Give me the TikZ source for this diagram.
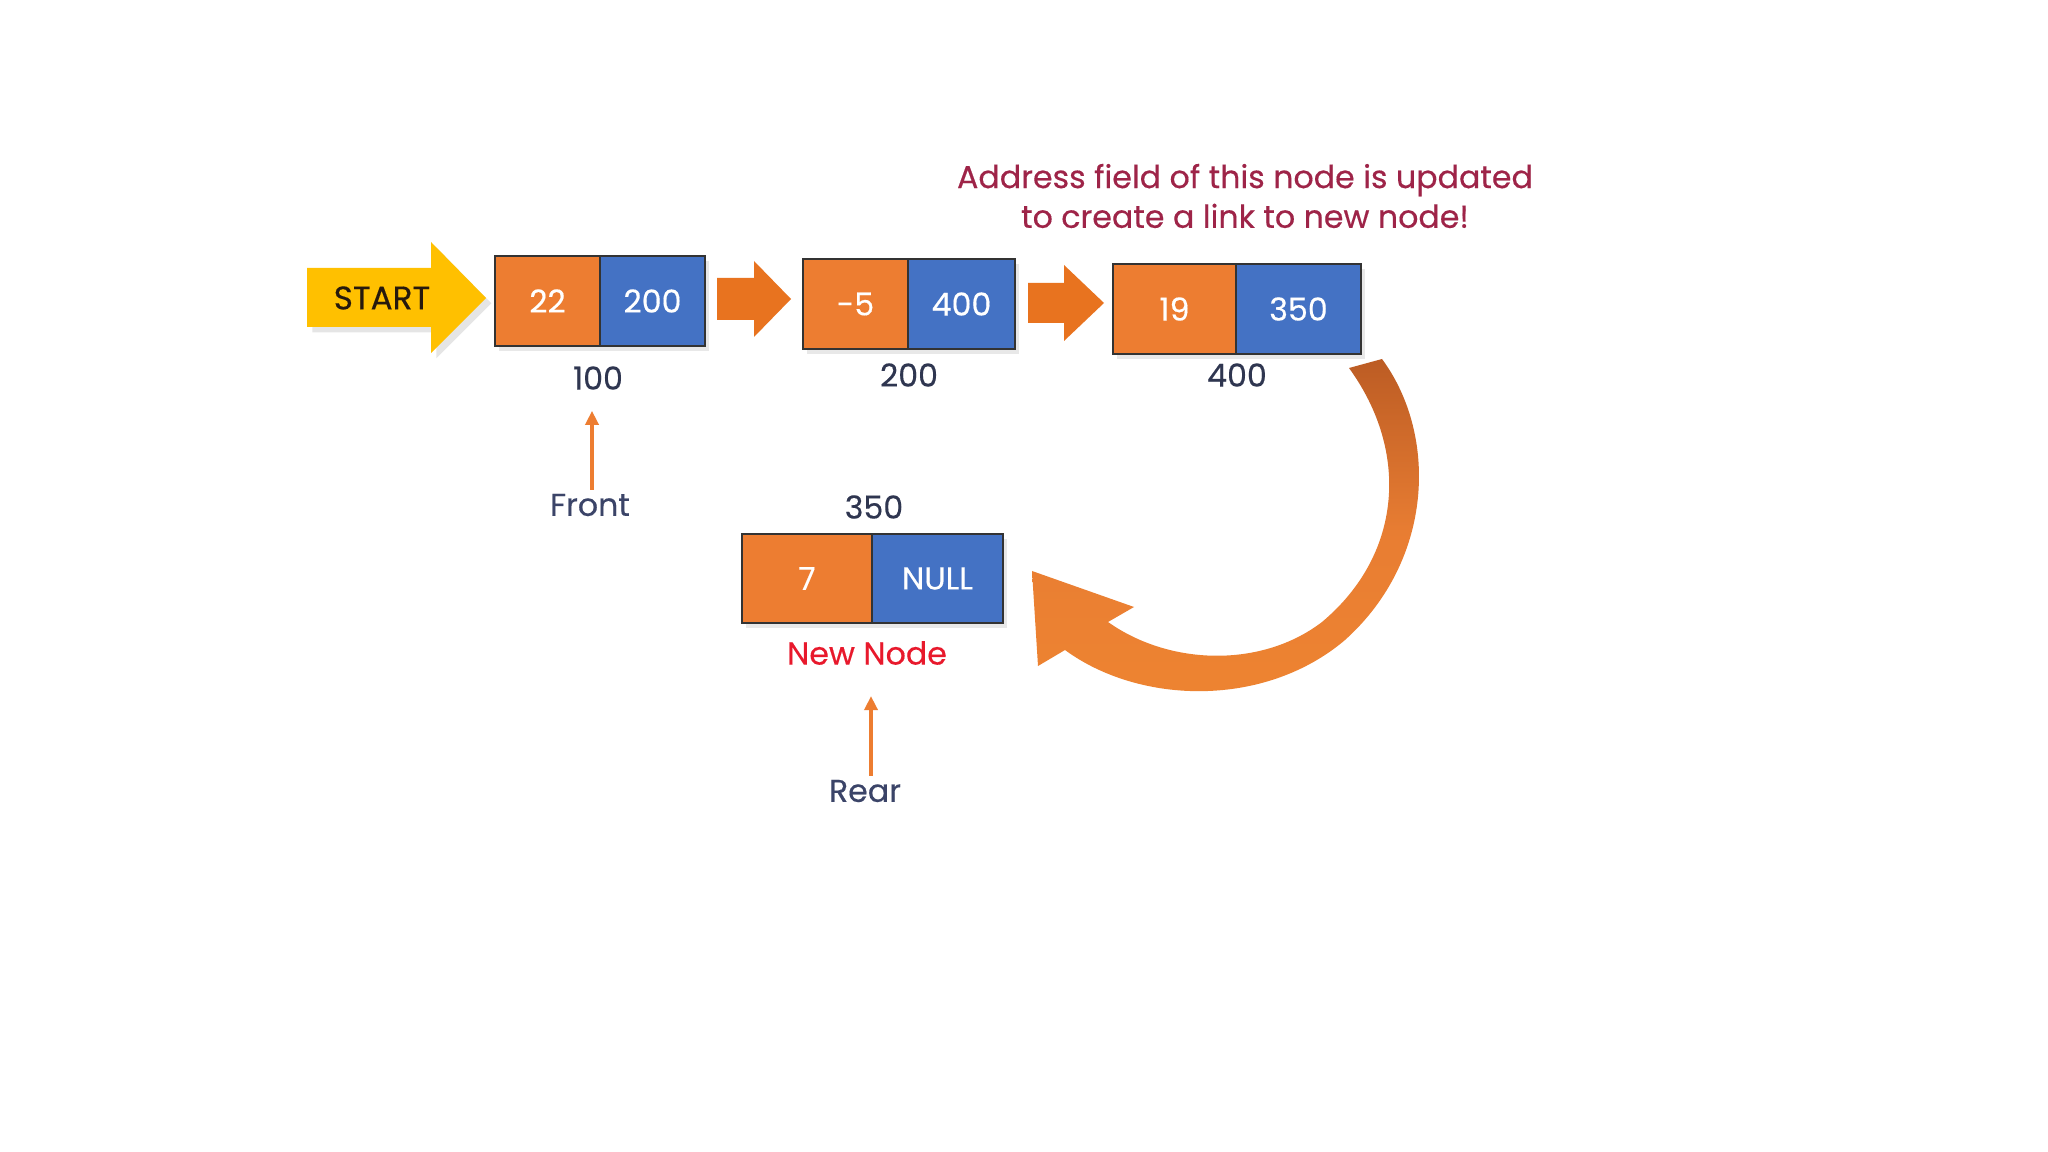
\documentclass[tikz,border=0pt]{standalone}
\usepackage{fontspec}
\setmainfont{Poppins}[UprightFeatures={FakeBold=0.35}]
\usetikzlibrary{arrows.meta,shadows}
\definecolor{cOrange}{HTML}{ED7D31}
\definecolor{cOrangeD}{HTML}{E8731F}
\definecolor{cBlue}{HTML}{4472C4}
\definecolor{cYellow}{HTML}{FFC000}
\definecolor{cNavy}{HTML}{2F3650}
\definecolor{cLabel}{HTML}{3B4468}
\definecolor{cNote}{HTML}{9E2448}
\definecolor{cRed}{HTML}{E8192C}
\definecolor{cBrown}{HTML}{BC5C24}
\definecolor{cArc}{HTML}{EE8431}
\begin{document}
\begin{tikzpicture}[x=0.01cm,y=-0.01cm,
  cell/.style={draw=black!80,line width=0.7pt,inner sep=0pt,outer sep=0pt,
    minimum height=0.9cm,text=white,font=\fontsize{9}{10}\selectfont,
    drop shadow={shadow xshift=1.2pt,shadow yshift=-1.5pt,opacity=0.18}},
  dcell/.style={cell,fill=cOrange},
  acell/.style={cell,fill=cBlue},
  addr/.style={text=cNavy,font=\fontsize{9}{10}\selectfont,inner sep=1pt},
  ptr/.style={text=cLabel,font=\fontsize{9}{10}\selectfont,inner sep=1pt},
  blockarrow/.style={fill=cOrangeD},
  ptrarrow/.style={draw=cOrange,line width=1.1pt,-{Triangle[length=0.14cm,width=0.13cm]}}
]
\useasboundingbox[fill=white] (0,0) rectangle (2048,1152);

% START arrow
\fill[cYellow,drop shadow={shadow xshift=1.5pt,shadow yshift=-1.5pt,opacity=0.2}]
  (307,268) -- (431,268) -- (431,242) -- (486,298) -- (431,353) -- (431,327) -- (307,327) -- cycle;
\node[text=black!80!brown,font=\fontsize{9.3}{10}\selectfont] (start) at (382,298) {START};

% node 1
\node[dcell,minimum width=1.05cm] (n1d) at (547.5,301) {22};
\node[acell,minimum width=1.05cm] (n1a) at (652.5,301) {200};
\node[addr] (a100) at (598,378) {100};

% block arrow 1
\fill[blockarrow] (717,278) -- (754,278) -- (754,261) -- (791,299) -- (754,337) -- (754,320) -- (717,320) -- cycle;

% node 2
\node[dcell,minimum width=1.05cm] (n2d) at (855.5,304) {-5};
\node[acell,minimum width=1.07cm] (n2a) at (961.5,304) {400};
\node[addr] (a200) at (909,375) {200};

% block arrow 2
\fill[blockarrow] (1028,283) -- (1064,283) -- (1064,265) -- (1104,303) -- (1064,341) -- (1064,323) -- (1028,323) -- cycle;

% node 3
\node[dcell,minimum width=1.23cm] (n3d) at (1174.5,309) {19};
\node[acell,minimum width=1.25cm] (n3a) at (1298.5,309) {350};
\node[addr] (a400) at (1237,375) {400};

% annotation
\node[text=cNote,font=\fontsize{9}{11.3}\selectfont,align=center] (note) at (1245,196)
  {Address field of this node is updated\\to create a link to new node!};

% new node
\node[addr] (a350) at (874,507) {350};
\node[dcell,minimum width=1.30cm,minimum height=0.89cm] (n4d) at (807,578.5) {7};
\node[acell,minimum width=1.31cm,minimum height=0.89cm] (n4a) at (937.5,578.5) {NULL};
\node[text=cRed,font=\fontsize{9}{10}\selectfont,inner sep=1pt] (newlbl) at (867,653) {New Node};

% pointers
\node[ptr] (front) at (590,505) {Front};
\node[ptr] (rear) at (865,791) {Rear};
\draw[ptrarrow,shorten >=0.17cm] ([xshift=0.02cm]front.north) -- ([xshift=0.02cm]front.north |- a100.south);
\draw[ptrarrow,shorten >=0.27cm] ([xshift=0.06cm]rear.north) -- ([xshift=0.06cm]rear.north |- newlbl.south);

% curved link arrow
\shade[top color=cBrown,bottom color=cArc,middle color=cOrange!90!brown]
  (1349,368) -- (1382,359)
  .. controls (1438,435) and (1434,560) .. (1345,640)
  .. controls (1265,708) and (1140,705) .. (1065,650)
  -- (1038,666) -- (1032,571) -- (1134,607) -- (1108,622)
  .. controls (1170,666) and (1262,668) .. (1322,622)
  .. controls (1402,555) and (1410,452) .. (1349,368) -- cycle;
\end{tikzpicture}
\end{document}
